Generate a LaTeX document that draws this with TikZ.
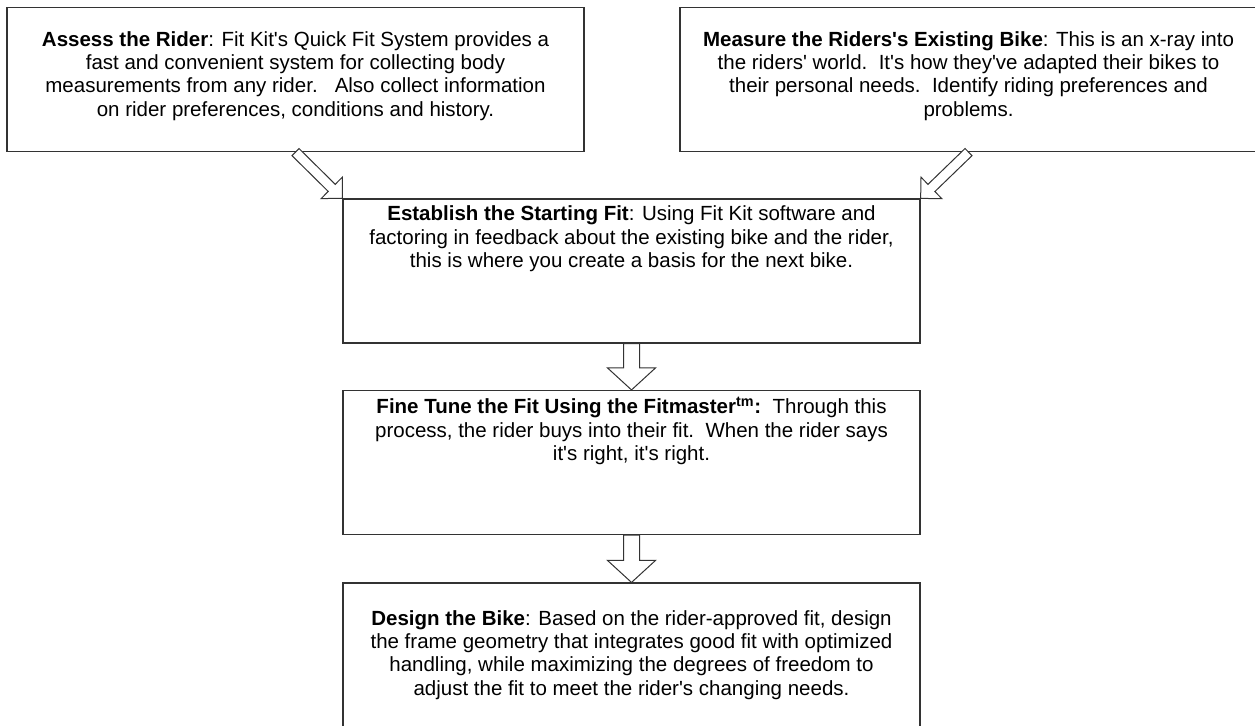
\documentclass[tikz,border=0pt]{standalone}
\usepackage{fontspec}
\setmainfont{Liberation Sans}[Ligatures=TeXOff]
\usetikzlibrary{calc}

\begin{document}
\begin{tikzpicture}[
    x=0.6pt, y=-0.6pt,
    stepbox/.style={rectangle, draw=black!80, line width=0.7pt, minimum width=346.2pt, minimum height=86.4pt, inner sep=0pt},
    boxtext/.style={align=center, inner sep=0pt, font=\fontsize{12.3}{14}\selectfont},
    fatarrow/.style n args={3}{draw=black!80, fill=white, line width=0.6pt, line join=miter,
        to path={let \p1=(\tikztostart), \p2=(\tikztotarget),
            \n1={atan2(\y2-\y1,\x2-\x1)}, \n2={veclen(\x2-\x1,\y2-\y1)} in
            [shift={(\p1)}, rotate=\n1]
            (0pt,-#1) -- ({\n2-#3},-#1) -- ({\n2-#3},-#2) -- ({\n2*1pt},0pt)
            -- ({\n2-#3},#2) -- ({\n2-#3},#1) -- (0pt,#1) -- cycle}},
    bigarrow/.style={fatarrow={4.8pt}{14.4pt}{13.2pt}},
    slimarrow/.style={fatarrow={3pt}{9pt}{9pt}}
]
\useasboundingbox (0,0) rectangle (1255,725);
\clip (0,0) rectangle (1255,725);

% Kasten
\node[stepbox] (assess) at (295.5,79.5) {};
\node[stepbox] (measure) at (968.5,79.5) {};
\node[stepbox] (establish) at (631.5,271) {};
\node[stepbox] (finetune) at (631.5,462.5) {};
\node[stepbox] (design) at (631.5,655) {};

% Texte
\node[boxtext] (assesstext) at (295.5,76) {\textbf{Assess the Rider}: Fit Kit's Quick Fit System provides a\\
    fast and convenient system for collecting body\\
    measurements from any rider.\ \ \ Also collect information\\
    on rider preferences, conditions and history.};
\node[boxtext] (measuretext) at (968.5,76) {\textbf{Measure the Riders's Existing Bike}: This is an x-ray into\\
    the riders' world.\ \ It's how they've adapted their bikes to\\
    their personal needs.\ \ Identify riding preferences and\\
    problems.};
\node[boxtext] (establishtext) at (631.5,239) {\textbf{Establish the Starting Fit}: Using Fit Kit software and\\
    factoring in feedback about the existing bike and the rider,\\
    this is where you create a basis for the next bike.};
\node[boxtext] (finetunetext) at (631.5,431) {\textbf{Fine Tune the Fit Using the Fitmaster\textsuperscript{tm}:}\ \ Through this\\
    process, the rider buys into their fit.\ \ When the rider says\\
    it's right, it's right.};
\node[boxtext] (designtext) at (631.5,655) {\textbf{Design the Bike}: Based on the rider-approved fit, design\\
    the frame geometry that integrates good fit with optimized\\
    handling, while maximizing the degrees of freedom to\\
    adjust the fit to meet the rider's changing needs.};

% Pfeile
\draw[slimarrow] (assess.south) to (establish.north west);
\draw[slimarrow] (measure.south) to (establish.north east);
\draw[bigarrow] (establish.south) to (finetune.north);
\draw[bigarrow] (finetune.south) to (design.north);

\end{tikzpicture}
\end{document}
